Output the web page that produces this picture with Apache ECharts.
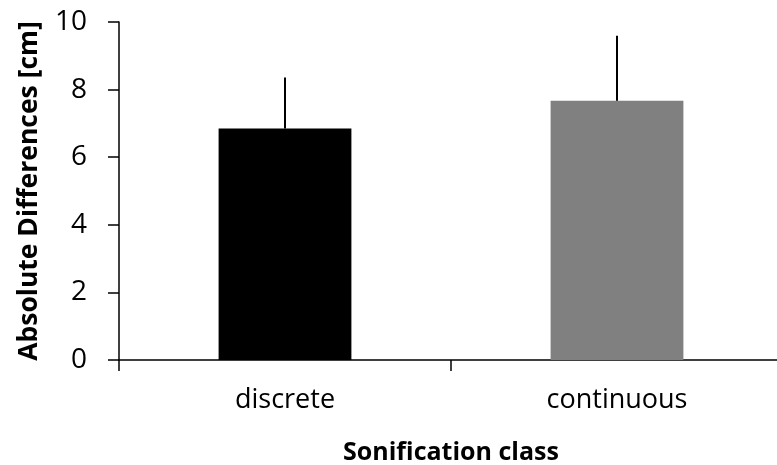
<!DOCTYPE html>
<html>
<head>
<meta charset="utf-8">
<script src="https://cdn.jsdelivr.net/npm/echarts@6/dist/echarts.min.js"></script>
<style>html,body{margin:0;padding:0;background:#fff}#c{width:777px;height:465px}</style>
</head>
<body>
<div id="c"></div>
<script>
const categories = ['discrete', 'continuous'];
const meanValues = [6.85, 7.67];
const errorTops = [8.36, 9.59];
const barColors = ['#000000', '#808080'];
const yTicks = [0, 2, 4, 6, 8, 10];

const FONT = '"Open Sans", "Liberation Sans", sans-serif';
const chart = echarts.init(document.getElementById('c'), null, {renderer: 'canvas'});
chart.setOption({
  animation: false,
  backgroundColor: '#ffffff',
  grid: {left: 119, top: 22, right: -6, height: 338, containLabel: false, outerBoundsMode: 'none'},
  xAxis: {
    type: 'category',
    data: categories,
    name: 'Sonification class',
    nameLocation: 'middle',
    nameGap: 80,
    nameTextStyle: {fontFamily: FONT, fontSize: 25, fontWeight: 'bold', color: '#000'},
    axisLine: {lineStyle: {color: '#000', width: 1.5}},
    axisTick: {show: true, length: 11, lineStyle: {color: '#000', width: 1.5}},
    axisLabel: {fontFamily: FONT, fontSize: 27, color: '#000', margin: 27}
  },
  yAxis: {
    type: 'value',
    min: yTicks[0],
    max: yTicks[yTicks.length - 1],
    interval: 2,
    name: 'Absolute Differences [cm]',
    nameLocation: 'middle',
    nameGap: 76,
    nameTextStyle: {fontFamily: FONT, fontSize: 26.5, fontWeight: 'bold', color: '#000'},
    axisLine: {show: true, lineStyle: {color: '#000', width: 1.5}},
    axisTick: {show: true, length: 11, lineStyle: {color: '#000', width: 1.5}},
    axisLabel: {fontFamily: FONT, fontSize: 28, color: '#000', margin: 32},
    splitLine: {show: false}
  },
  series: [
    {
      type: 'bar',
      data: meanValues.map((v, i) => ({value: v, itemStyle: {color: barColors[i]}})),
      barWidth: '40%',
      z: 2
    },
    {
      type: 'custom',
      z: 3,
      data: categories.map((c, i) => [i, meanValues[i], errorTops[i]]),
      renderItem: function (params, api) {
        const p0 = api.coord([api.value(0), api.value(1)]);
        const p1 = api.coord([api.value(0), api.value(2)]);
        return {
          type: 'line',
          shape: {x1: p0[0], y1: p0[1], x2: p1[0], y2: p1[1]},
          style: {stroke: '#000', lineWidth: 2}
        };
      }
    }
  ]
});
</script>
</body>
</html>
